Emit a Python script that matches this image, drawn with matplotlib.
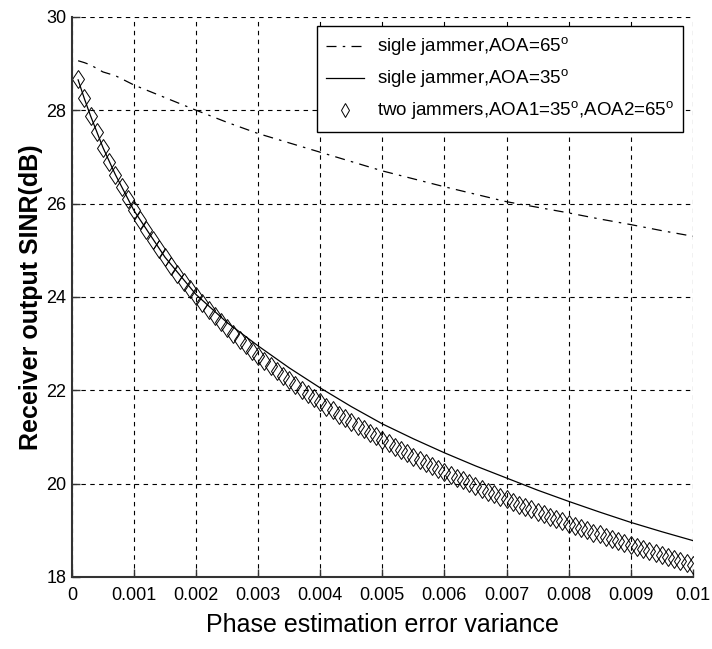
import matplotlib
matplotlib.use('Agg')
import matplotlib.pyplot as plt

# 横轴：相位估计误差方差
x_line = [0.0001, 0.0002, 0.0003, 0.0005, 0.0007, 0.001, 0.0015, 0.002, 0.0025, 0.003,
          0.0035, 0.004, 0.0045, 0.005, 0.0055, 0.006, 0.0065, 0.007, 0.0075, 0.008,
          0.0085, 0.009, 0.0095, 0.01]
# 单干扰 AOA=65
sinr_65 = [29.06, 29.02, 28.97, 28.82, 28.74, 28.54, 28.27, 28.00, 27.74, 27.50,
           27.30, 27.10, 26.90, 26.70, 26.53, 26.36, 26.20, 26.04, 25.92, 25.80,
           25.67, 25.55, 25.42, 25.30]
# 单干扰 AOA=35
sinr_35 = [28.65, 28.25, 27.88, 27.20, 26.62, 25.85, 24.85, 24.05, 23.45, 22.95,
           22.48, 22.05, 21.65, 21.28, 20.96, 20.66, 20.38, 20.12, 19.86, 19.62,
           19.39, 19.17, 18.97, 18.78]

# 双干扰，每 0.0001 一个点
x_two = [i * 0.0001 for i in range(1, 101)]
sinr_two = [28.67, 28.26, 27.88, 27.53, 27.20, 26.90, 26.62, 26.35, 26.10, 25.87,
            25.64, 25.43, 25.23, 25.03, 24.85, 24.67, 24.50, 24.33, 24.18, 24.02,
            23.88, 23.73, 23.59, 23.46, 23.33, 23.20, 23.08, 22.96, 22.85, 22.73,
            22.62, 22.52, 22.41, 22.31, 22.21, 22.11, 22.01, 21.92, 21.83, 21.74,
            21.65, 21.57, 21.48, 21.40, 21.32, 21.24, 21.16, 21.08, 21.01, 20.93,
            20.86, 20.79, 20.72, 20.65, 20.58, 20.51, 20.44, 20.38, 20.31, 20.25,
            20.19, 20.13, 20.07, 20.01, 19.95, 19.89, 19.83, 19.77, 19.72, 19.66,
            19.61, 19.55, 19.50, 19.45, 19.40, 19.34, 19.29, 19.24, 19.19, 19.14,
            19.10, 19.05, 19.00, 18.95, 18.91, 18.86, 18.81, 18.77, 18.73, 18.68,
            18.64, 18.59, 18.55, 18.51, 18.47, 18.43, 18.38, 18.34, 18.30, 18.26]

x_ticks = [0, 0.001, 0.002, 0.003, 0.004, 0.005, 0.006, 0.007, 0.008, 0.009, 0.01]
x_tick_labels = ['0', '0.001', '0.002', '0.003', '0.004', '0.005', '0.006', '0.007',
                 '0.008', '0.009', '0.01']
y_ticks = [18, 20, 22, 24, 26, 28, 30]

plt.rcParams['font.family'] = ['Liberation Sans', 'DejaVu Sans']
plt.rcParams['mathtext.fontset'] = 'custom'
plt.rcParams['mathtext.rm'] = 'Liberation Sans'

fig = plt.figure(figsize=(7.12, 6.49), dpi=100)
ax = fig.add_axes([0.101, 0.111, 0.872, 0.863])

ax.plot(x_line, sinr_65, color='k', linewidth=0.9, linestyle=(0, (8, 5, 2, 5)),
        label=r'sigle jammer,AOA=65$^{\rm o}$')
ax.plot(x_line, sinr_35, color='k', linewidth=0.9, linestyle='-',
        label=r'sigle jammer,AOA=35$^{\rm o}$')
ax.plot(x_two, sinr_two, linestyle='none', marker='d', markersize=9.5,
        markerfacecolor='none', markeredgecolor='k', markeredgewidth=0.7,
        label=r'two jammers,AOA1=35$^{\rm o}$,AOA2=65$^{\rm o}$')

ax.set_xlim(0, 0.01)
ax.set_ylim(18, 30)
ax.set_xticks(x_ticks)
ax.set_xticklabels(x_tick_labels)
ax.set_yticks(y_ticks)

for lab in ax.get_xticklabels() + ax.get_yticklabels():
    lab.set_fontsize(13)

ax.tick_params(direction='in', length=6, width=1, colors='#333333', labelcolor='k',
               top=False, right=False)
ax.tick_params(axis='x', pad=7)
ax.tick_params(axis='y', pad=4)

for side in ['top', 'right']:
    ax.spines[side].set_visible(False)
for side in ['left', 'bottom']:
    ax.spines[side].set_color('#333333')
    ax.spines[side].set_linewidth(1.5)

ax.grid(True, color='k', linestyle=(0, (4, 4)), linewidth=0.8)

ax.set_xlabel('Phase estimation error variance', fontsize=18, labelpad=7)
ax.set_ylabel('Receiver output SINR(dB)', fontsize=18, fontweight='bold', labelpad=2)

leg = ax.legend(loc='upper right', fontsize=13.5, frameon=True, fancybox=False,
                edgecolor='k', framealpha=1, handlelength=2.0, handletextpad=0.7,
                borderaxespad=0.5, borderpad=0.5, labelspacing=0.5, markerscale=0.75)
leg.get_frame().set_linewidth(1.0)

fig.savefig('out.png', dpi=100)
